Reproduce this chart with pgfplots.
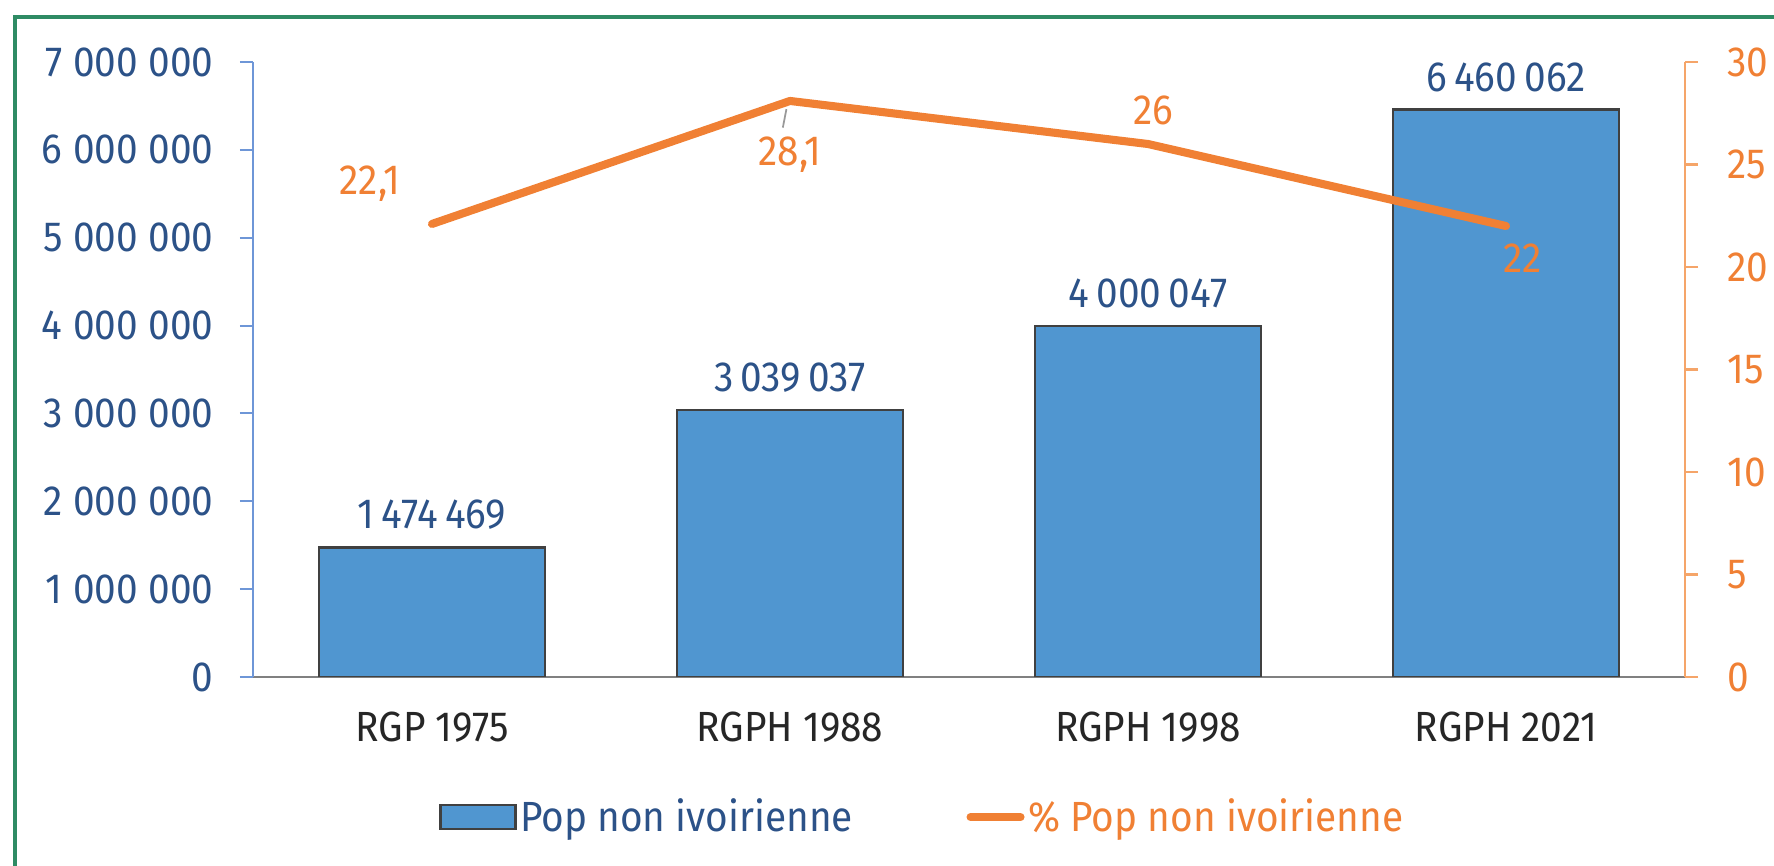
\documentclass[border=0pt]{standalone}
\usepackage{fontspec}
\setmainfont{Fira Sans}[FakeStretch=0.92]
\usepackage{pgfplots}
\pgfplotsset{compat=1.18}
\usepackage{pgfplotstable}

\definecolor{barblue}{RGB}{80,150,208}
\definecolor{lineorange}{RGB}{240,128,52}
\definecolor{txtblue}{RGB}{44,82,136}
\definecolor{framegreen}{RGB}{46,139,100}
\definecolor{axblue}{RGB}{110,150,215}
\definecolor{axorange}{RGB}{245,165,105}

\pgfplotstableread{
x pop
0 1474469
1 3039037
2 4000047
3 6460062
}\popdata

% dx, dy: label offsets in mm
\pgfplotstableread{
x pct dx dy
0 22.1 -6.2 4.0
1 28.1 0 -5.4
2 26 0.5 3.4
3 22 1.7 -3.2
}\pctdata

\pgfplotsset{
  every axis/.append style={
    font=\fontsize{12}{14}\selectfont,
    scale only axis, width=143.2mm, height=61.5mm,
    at={(25.3mm,18.9mm)}, anchor=south west,
    xmin=-0.5, xmax=3.5,
    tick align=outside, major tick length=1.3mm,
  },
}

\begin{document}
\begin{tikzpicture}
\useasboundingbox (0,0) rectangle (177.4mm,86.6mm);

\begin{axis}[
  axis x line*=bottom, axis y line*=left,
  ymin=0, ymax=7000000,
  ytick={0,1000000,...,7000000},
  scaled y ticks=false,
  yticklabel style={txtblue, xshift=-1.4mm, /pgf/number format/.cd, fixed, 1000 sep={\hspace{0.25em}}, assume math mode=true},
  y axis line style={axblue, line width=0.6pt},
  ytick style={axblue, line width=0.6pt},
  x axis line style={black!50, line width=0.8pt},
  xtick={0,1,2,3},
  xticklabels={RGP 1975, RGPH 1988, RGPH 1998, RGPH 2021},
  xtick style={draw=none},
  xticklabel style={black!85, yshift=-1.0mm},
  ybar, bar width=22.6mm,
  nodes near coords,
  nodes near coords style={txtblue, yshift=0.5mm, /pgf/number format/.cd, fixed, 1000 sep={\hspace{0.17em}}, assume math mode=true},
  legend columns=2,
  legend style={draw=none, fill=none, at={(0.468,-0.228)}, anchor=center,
    /tikz/every even column/.append style={column sep=11mm},
    nodes={inner sep=1pt}},
]
\addplot[fill=barblue, draw=black!75, line width=0.6pt,
  legend image code/.code={\draw[fill=barblue, draw=black!75, line width=0.6pt] (0mm,-1.2mm) rectangle (7.5mm,1.2mm);}]
  table[x=x, y=pop] {\popdata};
\addlegendentry{\textcolor{txtblue}{Pop non ivoirienne}}
\addlegendimage{lineorange, line width=2.3pt,
  legend image code/.code={\draw[lineorange, line width=2.3pt, line cap=round] (0mm,0mm) -- (5mm,0mm);}}
\addlegendentry{\textcolor{lineorange}{\% Pop non ivoirienne}}
\end{axis}

\begin{axis}[
  axis y line*=right, axis x line=none,
  ymin=0, ymax=30, ytick={0,5,...,30},
  y axis line style={axorange, line width=0.6pt},
  ytick style={axorange, line width=0.6pt},
  yticklabel style={lineorange, xshift=1.7mm, /pgf/number format/assume math mode=true},
  xtick=\empty,
]
\addplot[lineorange, line width=2.3pt, line join=round, line cap=round, mark=none,
  point meta=y,
  visualization depends on={\thisrow{dx} \as \ldx},
  visualization depends on={\thisrow{dy} \as \ldy},
  nodes near coords,
  nodes near coords style={anchor=center, xshift=\ldx mm, yshift=\ldy mm, lineorange,
    /pgf/number format/.cd, use comma, fixed, precision=1, assume math mode=true}]
  table[x=x, y=pct] {\pctdata};
\draw[black!40, line width=0.5pt] (axis cs:0.99,27.7) -- (axis cs:0.98,26.8);
\end{axis}

\draw[framegreen, line width=1.1pt] (1.5mm,-5mm) rectangle (182mm,84.9mm);
\end{tikzpicture}
\end{document}
